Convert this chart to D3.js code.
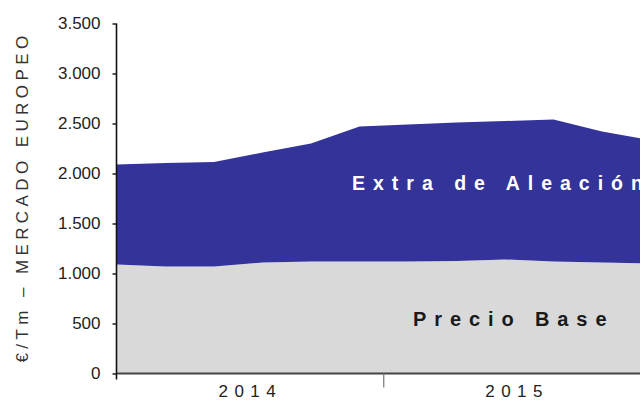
<!DOCTYPE html>
<html>
<head>
<meta charset="utf-8">
<script src="https://cdn.jsdelivr.net/npm/d3@7"></script>
<style>
  html, body { margin: 0; padding: 0; background: #fff; }
  svg { display: block; font-family: "Liberation Sans", Arial, sans-serif; }
</style>
</head>
<body>
<div id="chart"></div>
<script>
// Bimonthly price points, 2014–2015 (€/Tm, European market)
const periods = ["Ene-14", "Mar-14", "May-14", "Jul-14", "Sep-14", "Nov-14",
                 "Ene-15", "Mar-15", "May-15", "Jul-15", "Sep-15", "Nov-15"];
const precioBase = [1090, 1070, 1070, 1110, 1120, 1120, 1120, 1125, 1140, 1120, 1110, 1100];
const extraAleacion = [1000, 1035, 1045, 1100, 1180, 1350, 1370, 1385, 1385, 1420, 1310, 1235];
const years = ["2014", "2015"];
const yTicks = [0, 500, 1000, 1500, 2000, 2500, 3000, 3500];

const W = 640, H = 401;
const svg = d3.select("#chart").append("svg").attr("width", W).attr("height", H);

const x = d3.scaleLinear().domain([0, periods.length - 1]).range([117, 650.5]);
const y = d3.scaleLinear().domain([0, 3500]).range([373.5, 23.5]);

const es = d3.formatLocale({ decimal: ",", thousands: ".", grouping: [3], currency: ["", " €"] });
const fmt = es.format(",d");

// stack the two series
const rows = periods.map((p, i) => ({ i, base: precioBase[i], extra: extraAleacion[i] }));
const stack = d3.stack().keys(["base", "extra"])(rows);
const colors = { base: "#d9d9d9", extra: "#333399" };

const area = d3.area()
  .x(d => x(d.data.i))
  .y0(d => y(d[0]))
  .y1(d => y(d[1]));

svg.append("g").selectAll("path").data(stack).join("path")
  .attr("d", area)
  .attr("fill", d => colors[d.key]);

// Series labels inside the areas
svg.append("text").attr("x", 352).attr("y", 190)
  .attr("fill", "#fff").attr("font-size", 19.5).attr("font-weight", "bold")
  .attr("letter-spacing", 8)
  .text("Extra de Aleación");
svg.append("text").attr("x", 413).attr("y", 326)
  .attr("fill", "#1a1a1a").attr("font-size", 20).attr("font-weight", "bold")
  .attr("letter-spacing", 7.9)
  .text("Precio Base");

// Y axis
const yAxis = d3.axisLeft(y).tickValues(yTicks).tickFormat(fmt).tickSize(4).tickPadding(12);
const gy = svg.append("g").attr("transform", "translate(116.5,0)").call(yAxis);
gy.select(".domain").attr("stroke", "#111").attr("stroke-width", 1.6)
  .attr("d", `M0,${y(3500)}V${y(0) + 6}`);
gy.selectAll(".tick line").attr("stroke", "#111").attr("stroke-width", 1.4);
gy.selectAll(".tick text").attr("font-size", 17).attr("fill", "#222")
  .attr("font-family", "Liberation Sans, Arial, sans-serif");

// X axis: baseline, year boundary ticks and year labels
const gx = svg.append("g");
gx.append("line").attr("x1", x(0)).attr("x2", W).attr("y1", y(0)).attr("y2", y(0))
  .attr("stroke", "#444").attr("stroke-width", 2);
const yearBounds = [0, 5.5, 11];
gx.selectAll("line.yt").data(yearBounds.slice(1)).join("line").attr("class", "yt")
  .attr("x1", d => x(d)).attr("x2", d => x(d))
  .attr("y1", y(0)).attr("y2", y(0) + 14)
  .attr("stroke", "#777").attr("stroke-width", 1.2);
gx.selectAll("text").data(years).join("text")
  .attr("x", (d, i) => (x(yearBounds[i]) + x(yearBounds[i + 1])) / 2)
  .attr("y", 397)
  .attr("text-anchor", "middle")
  .attr("font-size", 17).attr("fill", "#222")
  .attr("letter-spacing", 6.5)
  .text(d => d);

// Y axis title
svg.append("text")
  .attr("transform", "translate(28,197) rotate(-90)")
  .attr("text-anchor", "middle")
  .attr("font-size", 17).attr("fill", "#333")
  .attr("letter-spacing", 4.4)
  .text("€/Tm – MERCADO EUROPEO");
</script>
</body>
</html>
